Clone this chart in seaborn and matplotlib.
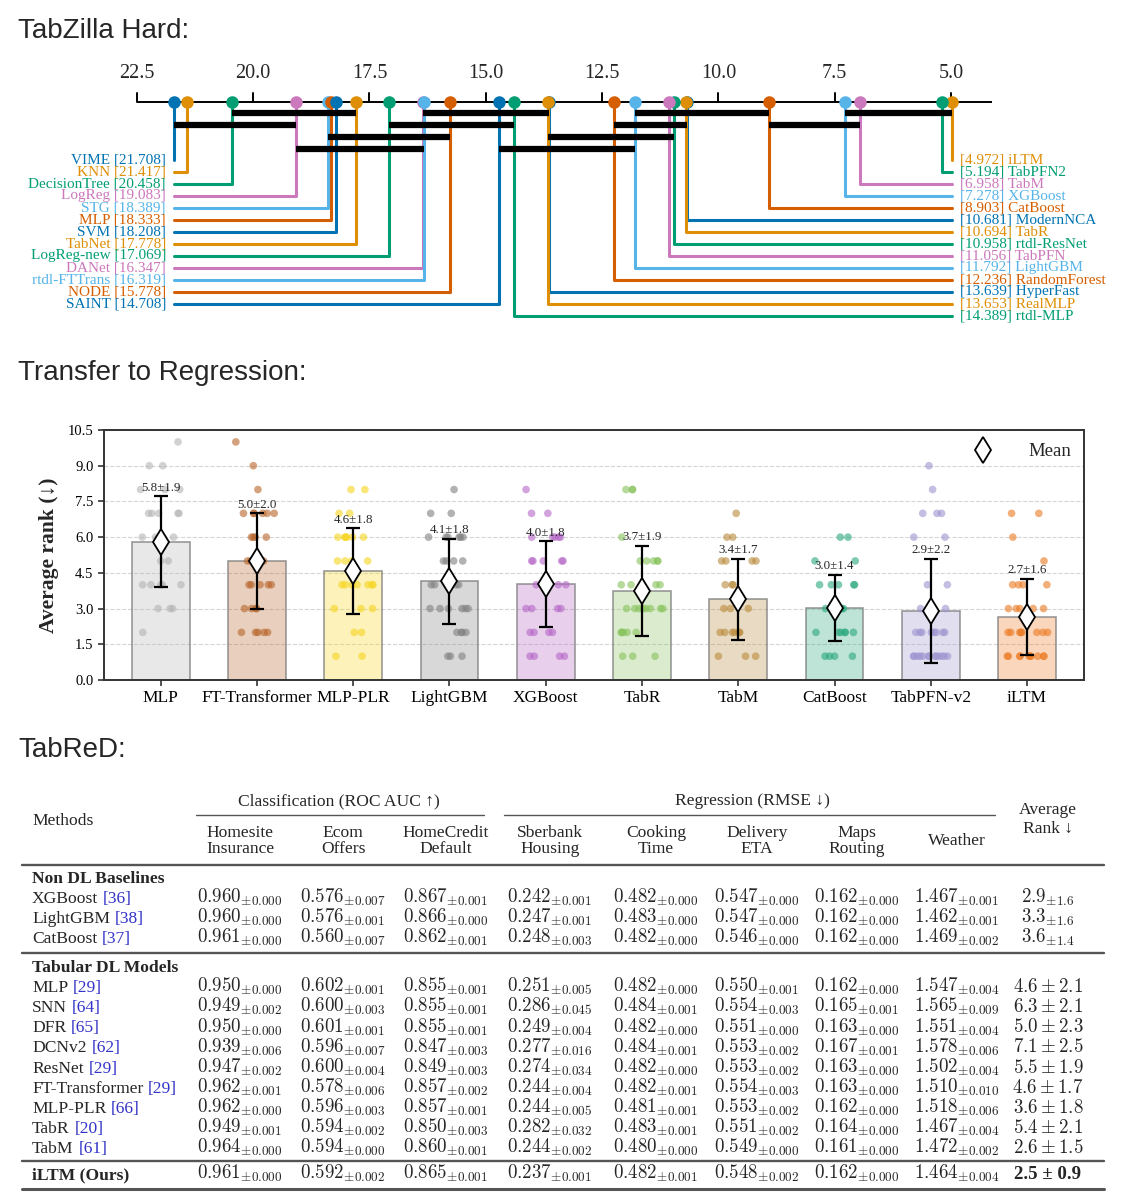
import numpy as np
import pandas as pd
import matplotlib
matplotlib.use("Agg")
import matplotlib.pyplot as plt
import seaborn as sns
from matplotlib.colors import to_rgba
from matplotlib.lines import Line2D

# ---------------- TabZilla Hard (critical difference diagram) ----------------
cd_left_names = ["VIME", "KNN", "DecisionTree", "LogReg", "STG", "MLP", "SVM", "TabNet",
                 "LogReg-new", "DANet", "rtdl-FTTrans", "NODE", "SAINT"]
cd_left_ranks = [21.708, 21.417, 20.458, 19.083, 18.389, 18.333, 18.208, 17.778,
                 17.069, 16.347, 16.319, 15.778, 14.708]
cd_right_names = ["iLTM", "TabPFN2", "TabM", "XGBoost", "CatBoost", "ModernNCA", "TabR",
                  "rtdl-ResNet", "TabPFN", "LightGBM", "RandomForest", "HyperFast", "RealMLP", "rtdl-MLP"]
cd_right_ranks = [4.972, 5.194, 6.958, 7.278, 8.903, 10.681, 10.694,
                  10.958, 11.056, 11.792, 12.236, 13.639, 13.653, 14.389]
cd_ticks = [22.5, 20.0, 17.5, 15.0, 12.5, 10.0, 7.5, 5.0]
# groups with no significant difference: row, from rank, to rank
clique_row = [0, 0, 0, 0, 1, 1, 1, 1, 2, 2, 3, 3]
clique_from = [20.458, 16.347, 11.792, 7.278, 21.708, 17.069, 12.236, 8.903, 18.389, 13.653, 19.083, 14.708]
clique_to = [17.778, 13.639, 8.903, 4.972, 19.083, 14.389, 10.681, 6.958, 15.778, 10.958, 16.319, 11.792]

# ---------------- Transfer to Regression ----------------
reg_models = ["MLP", "FT-Transformer", "MLP-PLR", "LightGBM", "XGBoost",
              "TabR", "TabM", "CatBoost", "TabPFN-v2", "iLTM"]
reg_mean = [5.81, 5.00, 4.57, 4.14, 4.02, 3.74, 3.40, 3.02, 2.90, 2.66]
reg_std = [1.9, 2.0, 1.8, 1.8, 1.8, 1.9, 1.7, 1.4, 2.2, 1.6]
rank_levels = [1, 2, 3, 4, 5, 6, 7, 8, 9, 10]
counts_mlp = [0, 1, 3, 5, 2, 3, 5, 3, 2, 1]
counts_ft = [0, 5, 4, 5, 4, 4, 6, 1, 1, 1]
counts_plr = [2, 2, 3, 7, 4, 6, 2, 2, 0, 0]
counts_lgbm = [3, 4, 6, 4, 4, 6, 2, 1, 0, 0]
counts_xgb = [4, 4, 4, 4, 5, 5, 2, 1, 0, 0]
counts_tabr = [3, 5, 8, 4, 5, 1, 0, 3, 0, 0]
counts_tabm = [3, 6, 3, 3, 4, 2, 1, 0, 0, 0]
counts_catboost = [4, 6, 5, 5, 2, 2, 0, 0, 0, 0]
counts_tabpfn = [13, 8, 2, 2, 0, 2, 3, 1, 1, 0]
counts_iltm = [10, 8, 5, 4, 1, 1, 2, 0, 0, 0]
rank_counts = [counts_mlp, counts_ft, counts_plr, counts_lgbm, counts_xgb,
               counts_tabr, counts_tabm, counts_catboost, counts_tabpfn, counts_iltm]
point_colors = ["#b4b4b4", "#b8652a", "#f7d51d", "#808080", "#b566c6",
                "#86c25a", "#b98a3a", "#2aa87e", "#9d93cf", "#ec7a22"]

# ---------------- TabReD table ----------------
methods = ["XGBoost", "LightGBM", "CatBoost", "MLP", "SNN", "DFR", "DCNv2", "ResNet",
           "FT-Transformer", "MLP-PLR", "TabR", "TabM", "iLTM (Ours)"]
refs = ["[36]", "[38]", "[37]", "[29]", "[64]", "[65]", "[62]", "[29]", "[29]", "[66]", "[20]", "[61]", ""]
homesite = [0.960, 0.960, 0.961, 0.950, 0.949, 0.950, 0.939, 0.947, 0.962, 0.962, 0.949, 0.964, 0.961]
homesite_sd = [0.000, 0.000, 0.000, 0.000, 0.002, 0.000, 0.006, 0.002, 0.001, 0.000, 0.001, 0.000, 0.000]
ecom = [0.576, 0.576, 0.560, 0.602, 0.600, 0.601, 0.596, 0.600, 0.578, 0.596, 0.594, 0.594, 0.592]
ecom_sd = [0.007, 0.001, 0.007, 0.001, 0.003, 0.001, 0.007, 0.004, 0.006, 0.003, 0.002, 0.000, 0.002]
homecredit = [0.867, 0.866, 0.862, 0.855, 0.855, 0.855, 0.847, 0.849, 0.857, 0.857, 0.850, 0.860, 0.865]
homecredit_sd = [0.001, 0.000, 0.001, 0.001, 0.001, 0.001, 0.003, 0.003, 0.002, 0.001, 0.003, 0.001, 0.001]
sberbank = [0.242, 0.247, 0.248, 0.251, 0.286, 0.249, 0.277, 0.274, 0.244, 0.244, 0.282, 0.244, 0.237]
sberbank_sd = [0.001, 0.001, 0.003, 0.005, 0.045, 0.004, 0.016, 0.034, 0.004, 0.005, 0.032, 0.002, 0.001]
cooking = [0.482, 0.483, 0.482, 0.482, 0.484, 0.482, 0.484, 0.482, 0.482, 0.481, 0.483, 0.480, 0.482]
cooking_sd = [0.000, 0.000, 0.000, 0.000, 0.001, 0.000, 0.001, 0.000, 0.001, 0.001, 0.001, 0.000, 0.001]
delivery = [0.547, 0.547, 0.546, 0.550, 0.554, 0.551, 0.553, 0.553, 0.554, 0.553, 0.551, 0.549, 0.548]
delivery_sd = [0.000, 0.000, 0.000, 0.001, 0.003, 0.000, 0.002, 0.002, 0.003, 0.002, 0.002, 0.000, 0.002]
maps = [0.162, 0.162, 0.162, 0.162, 0.165, 0.163, 0.167, 0.163, 0.163, 0.162, 0.164, 0.161, 0.162]
maps_sd = [0.000, 0.000, 0.000, 0.000, 0.001, 0.000, 0.001, 0.000, 0.000, 0.000, 0.000, 0.000, 0.000]
weather = [1.467, 1.462, 1.469, 1.547, 1.565, 1.551, 1.578, 1.502, 1.510, 1.518, 1.467, 1.472, 1.464]
weather_sd = [0.001, 0.001, 0.002, 0.004, 0.009, 0.004, 0.006, 0.004, 0.010, 0.006, 0.004, 0.002, 0.004]
avg_rank = [2.9, 3.3, 3.6, 4.6, 6.3, 5.0, 7.1, 5.5, 4.6, 3.6, 5.4, 2.6, 2.5]
avg_rank_sd = [1.6, 1.6, 1.4, 2.1, 2.1, 2.3, 2.5, 1.9, 1.7, 1.8, 2.1, 1.5, 0.9]
col_heads = ["Homesite\nInsurance", "Ecom\nOffers", "HomeCredit\nDefault", "Sberbank\nHousing",
             "Cooking\nTime", "Delivery\nETA", "Maps\nRouting", "Weather"]

# ---------------- style ----------------
sns.set_style("ticks")
plt.rcParams["font.family"] = ["Liberation Serif", "DejaVu Serif"]
plt.rcParams["mathtext.fontset"] = "cm"
SANS = ["Liberation Sans", "DejaVu Sans"]

W, H = 1136, 1200
fig = plt.figure(figsize=(W / 100, H / 100), dpi=100)


def axes_px(left, top, right, bottom):
    return fig.add_axes([left / W, 1 - bottom / H, (right - left) / W, (bottom - top) / H])


fig.text(18 / W, 1 - 31 / H, "TabZilla Hard:", fontsize=20, family=SANS, va="center")
fig.text(18 / W, 1 - 373 / H, "Transfer to Regression:", fontsize=20, family=SANS, va="center")
fig.text(18 / W, 1 - 750 / H, "TabReD:", fontsize=20, family=SANS, va="center")

# ---------------- CD diagram ----------------
ax = axes_px(0, 45, W, 330)
px_per_rank = (951 - 136.8) / 17.5
ax.set_xlim(22.5 + 136.8 / px_per_rank, 22.5 - (W - 136.8) / px_per_rank)
ax.set_ylim(330, 45)
ax.axis("off")

axis_y = 102
ax.plot([22.5, 4.12], [axis_y, axis_y], color="black", lw=1.4, solid_capstyle="butt", zorder=1)
for t in cd_ticks:
    ax.plot([t, t], [axis_y - 9, axis_y], color="black", lw=1.4, zorder=1)
    ax.text(t, 74, f"{t:.1f}", ha="center", va="center", fontsize=14.5)

cycle = sns.color_palette("colorblind")
cycle = [cycle[0], cycle[1], cycle[2], cycle[4], cycle[9], cycle[3]]
gap = 7.7 / px_per_rank

left_end = max(cd_left_ranks)
for i, (name, r) in enumerate(zip(cd_left_names, cd_left_ranks)):
    y = 160 + 12 * i
    c = cycle[i % 6]
    ax.plot([r, r, left_end], [axis_y, y, y], color=c, lw=2.2, zorder=2)
    ax.plot(r, axis_y, "o", ms=8, color=c, zorder=4)
    ax.text(left_end + gap, y, f"{name} [{r:.3f}]", ha="right", va="center", color=c, fontsize=11)

right_end = min(cd_right_ranks)
for j, (name, r) in enumerate(zip(cd_right_names, cd_right_ranks)):
    y = 160 + 12 * j
    c = cycle[(j + 1) % 6]
    ax.plot([r, r, right_end], [axis_y, y, y], color=c, lw=2.2, zorder=2)
    ax.plot(r, axis_y, "o", ms=8, color=c, zorder=4)
    ax.text(right_end - gap, y, f"[{r:.3f}] {name}", ha="left", va="center", color=c, fontsize=11)

for row, lo, hi in zip(clique_row, clique_from, clique_to):
    y = 113 + 12 * row
    ax.plot([lo, hi], [y, y], color="black", lw=4.5, solid_capstyle="butt", zorder=3)

# ---------------- bar + strip chart ----------------
ax = axes_px(104, 430, 1084, 680)
bar_df = pd.DataFrame({"model": reg_models, "mean": reg_mean})
sns.barplot(data=bar_df, x="model", y="mean", order=reg_models, color="white",
            width=0.6, errorbar=None, ax=ax, zorder=1)
for patch, c in zip(ax.patches, point_colors):
    patch.set_facecolor(to_rgba(c, 0.3))
    patch.set_edgecolor(to_rgba("#7a7a7a", 0.75))
    patch.set_linewidth(1.2)

rows = []
for m, counts in zip(reg_models, rank_counts):
    for lvl, n in zip(rank_levels, counts):
        rows += [(m, lvl)] * n
pts = pd.DataFrame(rows, columns=["model", "rank"])
np.random.seed(7)
sns.stripplot(data=pts, x="model", y="rank", order=reg_models, hue="model", hue_order=reg_models,
              palette=point_colors, jitter=0.22, size=5.5, alpha=0.6, linewidth=0,
              legend=False, ax=ax, zorder=2)

xpos = np.arange(len(reg_models))
ax.errorbar(xpos, reg_mean, yerr=reg_std, fmt="none", ecolor="black", elinewidth=1.6,
            capsize=5, capthick=1.6, zorder=4)
ax.plot(xpos, reg_mean, "d", ls="none", ms=13, mfc="white", mec="black", mew=1.3, zorder=5)
for x, m, s in zip(xpos, reg_mean, reg_std):
    ax.text(x, m + s + 0.1, f"{m:.1f}±{s:.1f}", ha="center", va="bottom", fontsize=9.3, zorder=6)

mean_handle = Line2D([], [], marker="d", ls="none", ms=13, mfc="white", mec="black", mew=1.3)
ax.legend([mean_handle], ["Mean"], loc="upper right", frameon=False, fontsize=13.5,
          handletextpad=1.4, borderaxespad=0.3)

ax.set_xlim((104 - 160.7) / 96.26, (1084 - 160.7) / 96.26)
ax.set_ylim(0, 10.5)
ax.set_yticks(np.arange(0, 10.6, 1.5))
ax.yaxis.set_major_formatter("{x:.1f}")
ax.yaxis.grid(True, ls="--", color="#d5d5d5", lw=0.8)
ax.set_axisbelow(True)
ax.set_xlabel("")
ax.set_ylabel("Average rank (↓)", fontsize=15.5, fontweight="bold", labelpad=6)
ax.tick_params(axis="x", labelsize=12.5, length=4, width=1.2, colors="#333333", labelcolor="black")
ax.tick_params(axis="y", labelsize=10.5, length=4, width=1.2, colors="#333333", labelcolor="black")
for sp in ax.spines.values():
    sp.set_color("#333333")
    sp.set_linewidth(1.4)

# ---------------- table ----------------
tx = axes_px(0, 780, W, 1200)
tx.set_xlim(0, W)
tx.set_ylim(1200, 780)
tx.axis("off")

col_x = [240, 343, 446, 550, 656, 757, 857, 957]
rank_x = 1048
rule_c = "#555555"
fs = 12.6
fs_num = 13.6

tx.text(339, 801, "Classification (ROC AUC ↑)", ha="center", va="center", fontsize=fs)
tx.plot([196, 484], [815, 815], color=rule_c, lw=1.0)
tx.text(752, 801, "Regression (RMSE ↓)", ha="center", va="center", fontsize=fs)
tx.plot([504, 995], [815, 815], color=rule_c, lw=1.0)
tx.text(32, 821, "Methods", ha="left", va="center", fontsize=fs)
for x, head in zip(col_x, col_heads):
    tx.text(x, 841, head, ha="center", va="center", fontsize=fs, linespacing=1.0)
tx.text(rank_x, 819, "Average\nRank ↓", ha="center", va="center", fontsize=fs, linespacing=1.25)

tx.plot([22, 1104], [865, 865], color=rule_c, lw=1.7)
tx.text(32, 879, "Non DL Baselines", ha="left", va="center", fontsize=fs, fontweight="bold")
tx.plot([22, 1104], [953, 953], color=rule_c, lw=1.7)
tx.text(32, 968, "Tabular DL Models", ha="left", va="center", fontsize=fs, fontweight="bold")
tx.plot([22, 1104], [1161, 1161], color=rule_c, lw=1.7)
tx.plot([22, 1104], [1189, 1189], color=rule_c, lw=2.2)

row_y = [898 + 20 * k for k in range(3)] + [987 + 20.15 * k for k in range(9)] + [1174]
value_cols = [(homesite, homesite_sd), (ecom, ecom_sd), (homecredit, homecredit_sd),
              (sberbank, sberbank_sd), (cooking, cooking_sd), (delivery, delivery_sd),
              (maps, maps_sd), (weather, weather_sd)]

for i, (name, ref) in enumerate(zip(methods, refs)):
    yb = row_y[i] + 5
    last = i == len(methods) - 1
    t = tx.text(32, yb, name, ha="left", va="baseline", fontsize=fs,
                fontweight="bold" if last else "normal")
    if ref:
        tx.annotate(ref, xy=(1, yb), xycoords=(t, "data"), xytext=(3.5, 0),
                    textcoords="offset points", ha="left", va="baseline",
                    fontsize=fs, color="#3434c8")
    for x, (vals, sds) in zip(col_x, value_cols):
        tx.text(x, yb, rf"${vals[i]:.3f}_{{\pm{sds[i]:.3f}}}$", ha="center", va="baseline", fontsize=fs_num)
    if i < 3:
        tx.text(rank_x, yb, rf"${avg_rank[i]:.1f}_{{\pm{avg_rank_sd[i]:.1f}}}$",
                ha="center", va="baseline", fontsize=fs_num)
    elif last:
        tx.text(rank_x, yb, f"{avg_rank[i]:.1f} ± {avg_rank_sd[i]:.1f}", ha="center", va="baseline",
                fontsize=fs_num, fontweight="bold")
    else:
        tx.text(rank_x, yb, rf"${avg_rank[i]:.1f} \pm {avg_rank_sd[i]:.1f}$",
                ha="center", va="baseline", fontsize=fs_num)

fig.savefig("out.png", dpi=100)
